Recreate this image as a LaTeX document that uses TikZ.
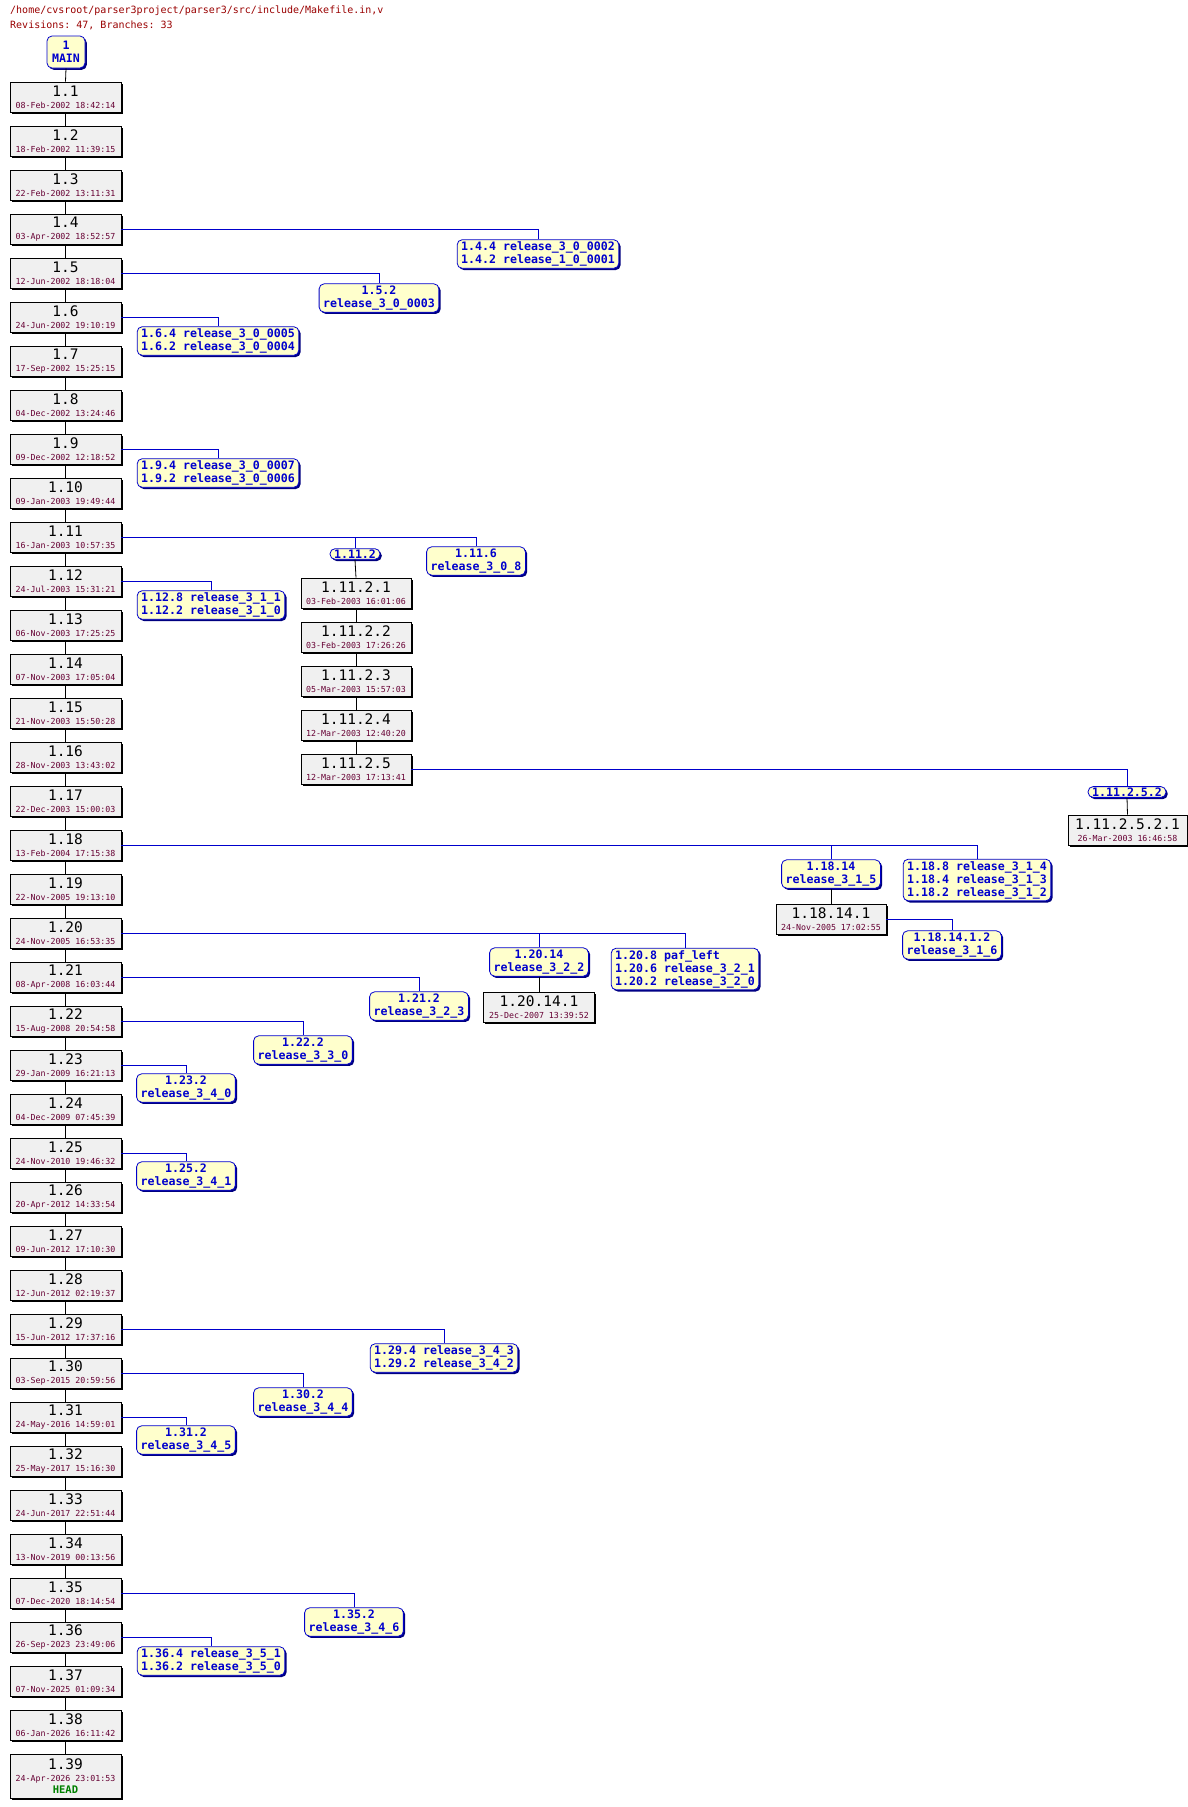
\documentclass[tikz,border=0pt]{standalone}
\usepackage{fontspec}
\setmonofont{DejaVu Sans Mono}
\usetikzlibrary{shadows}
\definecolor{revfill}{HTML}{F0F0F0}
\definecolor{datecol}{HTML}{660033}
\definecolor{tagfill}{HTML}{FFFFCC}
\definecolor{tagblue}{HTML}{0000CC}
\definecolor{tagdark}{HTML}{000080}
\definecolor{titlecol}{HTML}{990000}
\definecolor{headcol}{HTML}{008000}
\newcommand{\revno}[1]{{\fontsize{14.5}{13}\selectfont #1}}
\newcommand{\revdate}[1]{{\fontsize{8.3}{9}\selectfont\color{datecol}#1}}
\tikzset{
  revbox/.style={draw=black, fill=revfill, line width=0.8pt, minimum width=111pt,
    minimum height=30pt, inner sep=1pt, align=center, font=\ttfamily,
    drop shadow={shadow xshift=1.8pt, shadow yshift=-1.8pt, opacity=1, fill=black}},
  tagbox/.style={draw=tagblue, fill=tagfill, line width=0.8pt, rounded corners=5pt,
    inner xsep=4pt, inner ysep=2pt, align=#1, text=tagblue,
    font=\ttfamily\bfseries\fontsize{11.6}{13}\selectfont,
    drop shadow={shadow xshift=1.8pt, shadow yshift=-1.8pt, opacity=1, fill=tagdark}},
  tagbox/.default=center,
  trunk/.style={draw=black, line width=0.8pt},
  branch/.style={draw=tagblue, line width=0.8pt},
}
\begin{document}
\begin{tikzpicture}[x=1pt, y=-1pt]
    \useasboundingbox (0,0) rectangle (1188,1807);

    % the header
    \node[anchor=west, inner sep=0, text=titlecol, font=\ttfamily\fontsize{10}{12}\selectfont] (path) at (10,11)
        {/home/cvsroot/parser3project/parser3/src/include/Makefile.in,v};
    \node[anchor=west, inner sep=0, text=titlecol, font=\ttfamily\fontsize{10}{12}\selectfont] (stats) at (10,25)
        {Revisions: 47, Branches: 33};

    % the trunk
    \node[tagbox, minimum width=38pt, minimum height=32pt] (main) at (66,52) {1\\MAIN};
    \foreach \n/\d [count=\k] in {1/08-Feb-2002 18:42:14, 2/18-Feb-2002 11:39:15,
        3/22-Feb-2002 13:11:31, 4/03-Apr-2002 18:52:57, 5/12-Jun-2002 18:18:04,
        6/24-Jun-2002 19:10:19, 7/17-Sep-2002 15:25:15, 8/04-Dec-2002 13:24:46,
        9/09-Dec-2002 12:18:52, 10/09-Jan-2003 19:49:44, 11/16-Jan-2003 10:57:35,
        12/24-Jul-2003 15:31:21, 13/06-Nov-2003 17:25:25, 14/07-Nov-2003 17:05:04,
        15/21-Nov-2003 15:50:28, 16/28-Nov-2003 13:43:02, 17/22-Dec-2003 15:00:03,
        18/13-Feb-2004 17:15:38, 19/22-Nov-2005 19:13:10, 20/24-Nov-2005 16:53:35,
        21/08-Apr-2008 16:03:44, 22/15-Aug-2008 20:54:58, 23/29-Jan-2009 16:21:13,
        24/04-Dec-2009 07:45:39, 25/24-Nov-2010 19:46:32, 26/20-Apr-2012 14:33:54,
        27/09-Jun-2012 17:10:30, 28/12-Jun-2012 02:19:37, 29/15-Jun-2012 17:37:16,
        30/03-Sep-2015 20:59:56, 31/24-May-2016 14:59:01, 32/25-May-2017 15:16:30,
        33/24-Jun-2017 22:51:44, 34/13-Nov-2019 00:13:56, 35/07-Dec-2020 18:14:54,
        36/26-Sep-2023 23:49:06, 37/07-Nov-2025 01:09:34, 38/06-Jan-2026 16:11:42}
      \node[revbox] (r\n) at (65.5,{97+44*(\k-1)}) {\revno{1.\n}\\\revdate{\d}};
    \node[revbox, minimum height=44pt] (r39) at (65.5,1776)
        {\revno{1.39}\\\revdate{24-Apr-2026 23:01:53}\\{\bfseries\fontsize{10.5}{11}\selectfont\color{headcol}HEAD}};

    \draw[trunk] (main.south) -- (r1.north);
    \foreach \k [evaluate=\k as \j using int(\k+1)] in {1,...,38}
      \draw[trunk] (r\k.south) -- (r\j.north);

    % the branch 1.11.2
    \node[tagbox, inner ysep=1pt] (b1112) at (355,554) {1.11.2};
    \foreach \k/\d in {1/03-Feb-2003 16:01:06, 2/03-Feb-2003 17:26:26,
        3/05-Mar-2003 15:57:03, 4/12-Mar-2003 12:40:20, 5/12-Mar-2003 17:13:41}
      \node[revbox, minimum width=110pt] (r1112\k) at (356,{593+44*(\k-1)}) {\revno{1.11.2.\k}\\\revdate{\d}};
    \draw[trunk] (b1112.south) -- (r11121.north);
    \foreach \k [evaluate=\k as \j using int(\k+1)] in {1,...,4}
      \draw[trunk] (r1112\k.south) -- (r1112\j.north);
    \node[tagbox, inner ysep=1pt] (b11252) at (1127,792) {1.11.2.5.2};
    \node[revbox, minimum width=119pt] (r112521) at (1127.5,830) {\revno{1.11.2.5.2.1}\\\revdate{26-Mar-2003 16:46:58}};
    \draw[trunk] (b11252.south) -- (r112521.north);

    % the branches 1.18.14 and 1.20.14
    \node[tagbox] (b1814) at (831,874) {1.18.14\\release\_3\_1\_5};
    \node[revbox, minimum width=110pt] (r18141) at (831,919) {\revno{1.18.14.1}\\\revdate{24-Nov-2005 17:02:55}};
    \draw[trunk] (b1814.south) -- (r18141.north);
    \node[tagbox] (b18141) at (952,945) {1.18.14.1.2\\release\_3\_1\_6};
    \node[tagbox] (b2014) at (539,962) {1.20.14\\release\_3\_2\_2};
    \node[revbox] (r20141) at (539,1007) {\revno{1.20.14.1}\\\revdate{25-Dec-2007 13:39:52}};
    \draw[trunk] (b2014.south) -- (r20141.north);

    % the tags
    \node[tagbox=left] (t4) at (538,254) {1.4.4 release\_3\_0\_0002\\1.4.2 release\_1\_0\_0001};
    \node[tagbox] (t5) at (379,298) {1.5.2\\release\_3\_0\_0003};
    \node[tagbox=left] (t6) at (218,341) {1.6.4 release\_3\_0\_0005\\1.6.2 release\_3\_0\_0004};
    \node[tagbox=left] (t9) at (218,473) {1.9.4 release\_3\_0\_0007\\1.9.2 release\_3\_0\_0006};
    \node[tagbox] (t11) at (476,561) {1.11.6\\release\_3\_0\_8};
    \node[tagbox=left] (t12) at (211,605) {1.12.8 release\_3\_1\_1\\1.12.2 release\_3\_1\_0};
    \node[tagbox=left] (t18) at (977,880) {1.18.8 release\_3\_1\_4\\1.18.4 release\_3\_1\_3\\1.18.2 release\_3\_1\_2};
    \node[tagbox=left] (t20) at (685,969) {1.20.8 paf\_left\\1.20.6 release\_3\_2\_1\\1.20.2 release\_3\_2\_0};
    \node[tagbox] (t21) at (419,1006) {1.21.2\\release\_3\_2\_3};
    \node[tagbox] (t22) at (303,1050) {1.22.2\\release\_3\_3\_0};
    \node[tagbox] (t23) at (186,1088) {1.23.2\\release\_3\_4\_0};
    \node[tagbox] (t25) at (186,1176) {1.25.2\\release\_3\_4\_1};
    \node[tagbox=left] (t29) at (444,1358) {1.29.4 release\_3\_4\_3\\1.29.2 release\_3\_4\_2};
    \node[tagbox] (t30) at (303,1402) {1.30.2\\release\_3\_4\_4};
    \node[tagbox] (t31) at (186,1440) {1.31.2\\release\_3\_4\_5};
    \node[tagbox] (t35) at (354,1622) {1.35.2\\release\_3\_4\_6};
    \node[tagbox=left] (t36) at (211,1661) {1.36.4 release\_3\_5\_1\\1.36.2 release\_3\_5\_0};

    % the branch lines
    \foreach \a/\b in {r4/t4, r5/t5, r6/t6, r9/t9, r11/t11, r11/b1112, r12/t12,
        r11125/b11252, r18/t18, r18/b1814, r18141/b18141, r20/t20, r20/b2014,
        r21/t21, r22/t22, r23/t23, r25/t25, r29/t29, r30/t30, r31/t31, r35/t35, r36/t36}
      \draw[branch] (\a.east) -| (\b.north);

\end{tikzpicture}
\end{document}
